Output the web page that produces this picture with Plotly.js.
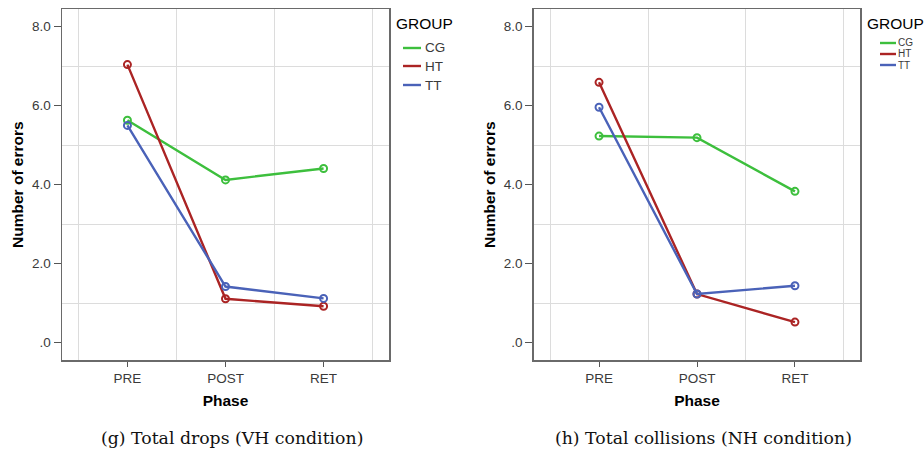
<!DOCTYPE html>
<html>
<head>
<meta charset="utf-8">
<script src="https://cdn.plot.ly/plotly-3.0.1.min.js"></script>
<style>html,body{margin:0;padding:0;background:#fff;}#chart{width:924px;height:452px;}</style>
</head>
<body>
<div id="chart"></div>
<script>
// ---- data ----
const phases = ['PRE', 'POST', 'RET'];
const groups = ['CG', 'HT', 'TT'];
// (g) Total drops (VH condition)
const dropsCG = [5.63, 4.12, 4.41];
const dropsHT = [7.04, 1.11, 0.92];
const dropsTT = [5.50, 1.42, 1.12];
// (h) Total collisions (NH condition)
const collCG = [5.23, 5.19, 3.83];
const collHT = [6.59, 1.23, 0.52];
const collTT = [5.96, 1.23, 1.44];
const yTickVals = [0, 2, 4, 6, 8];
const yTickText = ['.0', '2.0', '4.0', '6.0', '8.0'];
const captions = ['(g) Total drops (VH condition)', '(h) Total collisions (NH condition)'];
const legendTitle = 'GROUP';
const xTitle = 'Phase';
const yTitle = 'Number of errors';

// ---- style ----
const SANS = "'Liberation Sans', Arimo, Arial, sans-serif";
const SERIF = "'DejaVu Serif', serif";
const colors = ['#3dbf3d', '#ab2424', '#4a62b8'];
const W = 924, H = 452;
const px = v => v / W, py = v => 1 - v / H;
const xIdx = phases.map((p, i) => i);

const panels = [
  {series: [dropsCG, dropsHT, dropsTT], xa: 'x', ya: 'y'},
  {series: [collCG, collHT, collTT], xa: 'x2', ya: 'y2'}
];

const traces = [];
panels.forEach(pn => {
  pn.series.forEach((vals, gi) => {
    traces.push({
      type: 'scatter', mode: 'lines+markers',
      x: xIdx, y: vals, xaxis: pn.xa, yaxis: pn.ya,
      name: groups[gi], showlegend: false,
      line: {color: colors[gi], width: 2.4},
      marker: {symbol: 'circle-open', size: 7, color: colors[gi], line: {width: 2, color: colors[gi]}},
      hoverinfo: 'skip'
    });
  });
});

function xAxis(domain, anchor) {
  return {
    domain: domain, anchor: anchor, range: [-0.667, 2.667],
    tickvals: xIdx, ticktext: phases, ticks: 'outside', ticklen: 5, tickcolor: '#555', tickwidth: 1,
    showgrid: false, zeroline: false,
    minor: {tickvals: [-0.5, 0.5, 1.5, 2.5], showgrid: true, gridcolor: '#dcdcdc', gridwidth: 1, ticks: ''},
    showline: true, mirror: true, linecolor: '#6a6a6a', linewidth: 1.5,
    tickfont: {family: SANS, size: 13.5, color: '#3a3a3a'},
    title: {text: xTitle, standoff: 10, font: {family: SANS, size: 15.5, color: '#000', weight: 'bold'}},
    fixedrange: true
  };
}
function yAxis(anchor) {
  return {
    domain: [1 - 360 / H, 1 - 9.3 / H], anchor: anchor, range: [-0.44, 8.44],
    tickvals: yTickVals, ticktext: yTickText, ticks: 'outside', ticklen: 7, tickcolor: '#555', tickwidth: 1,
    showgrid: false, zeroline: false,
    minor: {tickvals: [1, 3, 5, 7], showgrid: true, gridcolor: '#dcdcdc', gridwidth: 1, ticks: ''},
    showline: true, mirror: true, linecolor: '#6a6a6a', linewidth: 1.5,
    tickfont: {family: SANS, size: 13.5, color: '#3a3a3a'},
    ticklabelstandoff: 0,
    title: {text: yTitle, standoff: 4, font: {family: SANS, size: 15.5, color: '#000', weight: 'bold'}},
    fixedrange: true
  };
}

// legends drawn as annotations + short line shapes
const annotations = [];
const shapes = [];
const legends = [
  {titleX: 394, lineX0: 403, lineX1: 421, textX: 423, rows: [48, 66, 85], size: 13.5},
  {titleX: 865, lineX0: 880, lineX1: 896, textX: 896, rows: [43, 54, 65], size: 10}
];
legends.forEach(lg => {
  annotations.push({xref: 'paper', yref: 'paper', x: px(lg.titleX), y: py(23), xanchor: 'left', yanchor: 'middle',
    text: legendTitle, showarrow: false, font: {family: SANS, size: 15.5, color: '#000'}});
  groups.forEach((g, gi) => {
    shapes.push({type: 'line', xref: 'paper', yref: 'paper', x0: px(lg.lineX0), x1: px(lg.lineX1),
      y0: py(lg.rows[gi]), y1: py(lg.rows[gi]), line: {color: colors[gi], width: 2.4}});
    annotations.push({xref: 'paper', yref: 'paper', x: px(lg.textX), y: py(lg.rows[gi]), xanchor: 'left', yanchor: 'middle',
      text: g, showarrow: false, font: {family: SANS, size: lg.size, color: '#3a3a3a'}});
  });
});
// captions
[231.5, 703].forEach((cx, i) => {
  annotations.push({xref: 'paper', yref: 'paper', x: px(cx), y: py(438), xanchor: 'center', yanchor: 'middle',
    text: captions[i], showarrow: false, font: {family: SERIF, size: 17.3, color: '#111'}});
});

const layout = {
  width: W, height: H, margin: {l: 0, r: 0, t: 0, b: 0},
  paper_bgcolor: '#fff', plot_bgcolor: '#fff', showlegend: false,
  xaxis: xAxis([62 / W, 389 / W], 'y'),
  yaxis: yAxis('x'),
  xaxis2: xAxis([533.7 / W, 860.3 / W], 'y2'),
  yaxis2: yAxis('x2'),
  annotations: annotations, shapes: shapes
};

Plotly.newPlot('chart', traces, layout, {displayModeBar: false, staticPlot: true});
</script>
</body>
</html>
